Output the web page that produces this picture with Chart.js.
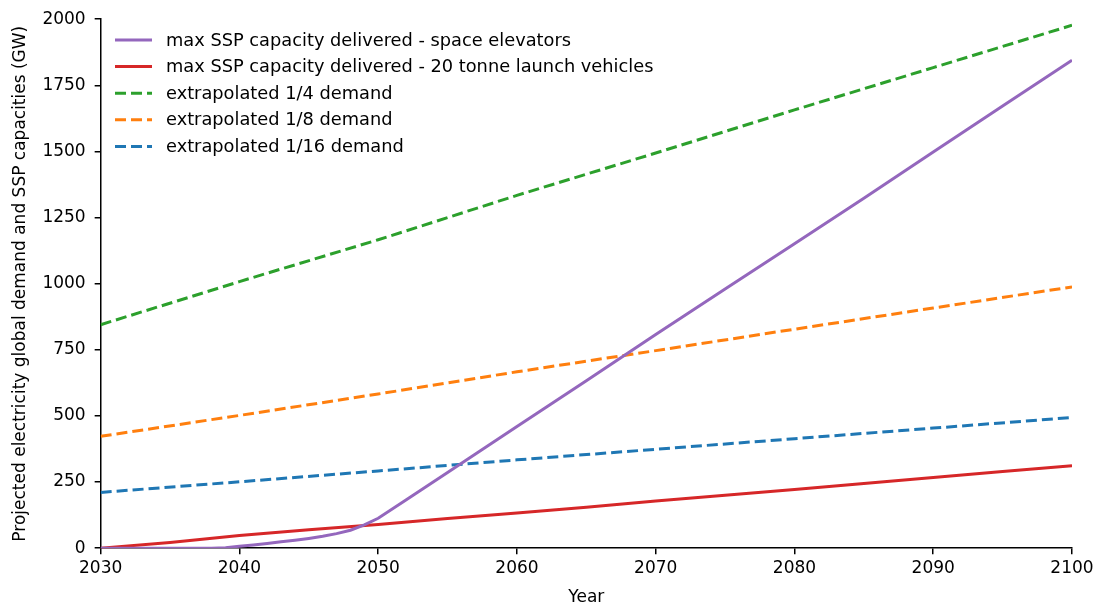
<!DOCTYPE html>
<html>
<head>
<meta charset="utf-8">
<script src="https://cdn.jsdelivr.net/npm/chart.js@4/dist/chart.umd.min.js"></script>
<style>
html,body{margin:0;padding:0;background:#fff;}
#wrap{width:1101px;height:608px;position:relative;}
</style>
</head>
<body>
<div id="wrap"><canvas id="c" width="1101" height="608"></canvas></div>
<script>
// ---- data ----
const elevYears = [2030,2035,2038,2039,2040,2041,2042,2043,2044,2045,2046,2047,2048,2049,2050,2052,2055,2060,2065,2070,2075,2080,2085,2090,2095,2100];
const elevValues = [0,0,0,2,7,12,18,24,30,37,45,55,68,88,113,182,286,460,633,808,980,1151,1323,1498,1672,1845];

const launchYears = [2030,2035,2040,2045,2050,2055,2060,2065,2070,2075,2080,2085,2090,2095,2100];
const launchValues = [0,22,48,70,90,112,133,155,178,200,222,245,267,290,312];

const demandYears = [2030,2040,2050,2060,2070,2080,2090,2100];
const quarterDemand = [845,1008,1166,1334,1494,1657,1817,1977];
const eighthDemand  = [423,502,583,667,747,828,908,988];
const sixteenthDemand = [211,251,292,334,374,414,454,494];

const seriesLabels = [
  'max SSP capacity delivered - space elevators',
  'max SSP capacity delivered - 20 tonne launch vehicles',
  'extrapolated 1/4 demand',
  'extrapolated 1/8 demand',
  'extrapolated 1/16 demand'
];
const yTicks = [0,250,500,750,1000,1250,1500,1750,2000];
const xTicks = [2030,2040,2050,2060,2070,2080,2090,2100];

const pts = (xs, ys) => xs.map((x,i)=>({x:x,y:ys[i]}));
const FONT = "'DejaVu Sans', sans-serif";

const legendInside = {
  id:'legendInside',
  afterDraw(chart){
    const ctx = chart.ctx;
    ctx.save();
    ctx.font = "17.8px " + FONT;
    ctx.textBaseline = 'middle';
    chart.data.datasets.forEach((ds,i)=>{
      const y = 40 + i*26.6;
      const x0 = 115;
      ctx.strokeStyle = ds.borderColor;
      ctx.lineWidth = 3;
      ctx.setLineDash(ds.borderDash || []);
      ctx.beginPath();
      ctx.moveTo(x0, y);
      ctx.lineTo(x0+37, y);
      ctx.stroke();
      ctx.setLineDash([]);
      ctx.fillStyle = '#000';
      ctx.fillText(ds.label, 166, y+1);
    });
    ctx.restore();
  }
};

new Chart(document.getElementById('c'), {
  type:'line',
  data:{
    datasets:[
      {label:seriesLabels[0], data:pts(elevYears,elevValues), borderColor:'#9467bd', borderWidth:3, pointRadius:0, tension:0},
      {label:seriesLabels[1], data:pts(launchYears,launchValues), borderColor:'#d62728', borderWidth:3, pointRadius:0},
      {label:seriesLabels[2], data:pts(demandYears,quarterDemand), borderColor:'#2ca02c', borderWidth:3, borderDash:[11,5], pointRadius:0},
      {label:seriesLabels[3], data:pts(demandYears,eighthDemand), borderColor:'#ff7f0e', borderWidth:3, borderDash:[11,5], pointRadius:0},
      {label:seriesLabels[4], data:pts(demandYears,sixteenthDemand), borderColor:'#1f77b4', borderWidth:3, borderDash:[11,5], pointRadius:0}
    ]
  },
  options:{
    responsive:false,
    animation:false,
    layout:{padding:{top:15,right:29,bottom:0,left:10}},
    plugins:{legend:{display:false}, tooltip:{enabled:false}},
    scales:{
      x:{
        type:'linear', min:2030, max:2100,
        afterBuildTicks: s => { s.ticks = xTicks.map(v=>({value:v})); },
        ticks:{color:'#000', font:{family:FONT,size:17}, padding:4, maxRotation:0, callback:v=>String(v)},
        grid:{drawOnChartArea:false, drawTicks:true, tickLength:6, color:'#000', lineWidth:1.5},
        border:{display:true, color:'#000', width:1.5},
        title:{display:true, text:'Year', color:'#000', font:{family:FONT,size:17}, padding:{top:5,bottom:0}}
      },
      y:{
        type:'linear', min:0, max:2000,
        afterBuildTicks: s => { s.ticks = yTicks.map(v=>({value:v})); },
        ticks:{color:'#000', font:{family:FONT,size:17}, padding:9, callback:v=>String(v)},
        grid:{drawOnChartArea:false, drawTicks:true, tickLength:6, color:'#000', lineWidth:1.5},
        border:{display:true, color:'#000', width:1.5},
        title:{display:true, text:'Projected electricity global demand and SSP capacities (GW)', color:'#000', font:{family:FONT,size:17}, padding:{top:0,bottom:3}}
      }
    }
  },
  plugins:[legendInside]
});
</script>
</body>
</html>
